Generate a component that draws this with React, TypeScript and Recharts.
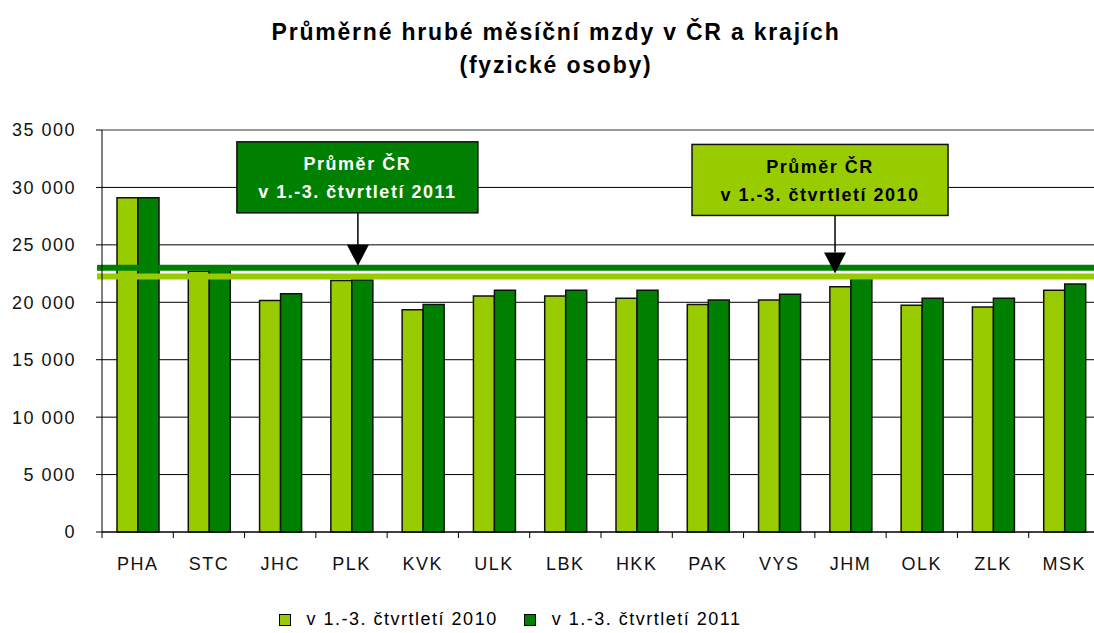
import { BarChart, Bar, XAxis, YAxis, CartesianGrid, ReferenceLine, Legend } from 'recharts'

const regions = ['PHA', 'STC', 'JHC', 'PLK', 'KVK', 'ULK', 'LBK', 'HKK', 'PAK', 'VYS', 'JHM', 'OLK', 'ZLK', 'MSK']
const wages2010 = [29100, 22700, 20150, 21900, 19350, 20550, 20550, 20350, 19800, 20200, 21350, 19750, 19600, 21050]
const wages2011 = [29100, 22900, 20750, 21950, 19800, 21050, 21050, 21050, 20200, 20700, 22050, 20350, 20350, 21600]
const avg2010 = 22250
const avg2011 = 23000
const yTicks = [0, 5000, 10000, 15000, 20000, 25000, 30000, 35000]
const seriesNames = ['v 1.-3. čtvrtletí 2010', 'v 1.-3. čtvrtletí 2011']
const calloutTitle = 'Průměr ČR'

const LIGHT = '#99cc00'
const DARK = '#008000'
const FONT = '"Liberation Sans", Arial, sans-serif'

const data = regions.map((r, i) => ({ region: r, y2010: wages2010[i], y2011: wages2011[i] }))

const W = 1100
const H = 633
const LEFT = 102
const BAND = (W - LEFT) / regions.length
const X_TICK = 6
const X_MARGIN = 18

// "35 000" style with a plain space as thousands separator
const fmt = (v: number) => {
  const s = String(Math.round(v))
  return s.replace(/\B(?=(\d{3})+(?!\d))/g, ' ')
}

function RegionTick({ x, y, payload }: any) {
  const axisY = y - X_TICK - X_MARGIN
  return (
    <g>
      <line x1={x - BAND / 2} x2={x - BAND / 2} y1={axisY} y2={axisY + X_TICK} stroke="#000" />
      <text x={x} y={y} dy="0.8em" textAnchor="middle" fill="#111" fontSize={18} letterSpacing={1.5} fontFamily={FONT}>
        {payload.value}
      </text>
    </g>
  )
}

/// Callout box + arrow pinned to a reference line (viewBox = the line).
function AvgCallout({ viewBox, fill, textColor, lineColor, arrowFrac, boxDx, boxW, rise, tipGap, label }: any) {
  if (!viewBox) return null
  const { x, y, width } = viewBox
  const ax = x + width * arrowFrac
  const boxTop = y - rise
  const boxH = 71
  const tip = y - tipGap
  const triTop = tip - 21
  return (
    <g>
      <line x1={x - 5} x2={x} y1={y} y2={y} stroke={lineColor} strokeWidth={6} />
      <line x1={ax} x2={ax} y1={boxTop + boxH} y2={triTop} stroke="#000" strokeWidth={1.5} />
      <polygon points={`${ax - 11},${triTop} ${ax + 11},${triTop} ${ax},${tip}`} fill="#000" />
      <rect x={ax + boxDx} y={boxTop} width={boxW} height={boxH} fill={fill} stroke="#111" strokeWidth={1.5} />
      <text x={ax + boxDx + boxW / 2} y={boxTop + 22} dy="0.35em" textAnchor="middle" fill={textColor}
        fontSize={18} fontWeight="bold" letterSpacing={1.5} fontFamily={FONT}>{calloutTitle}</text>
      <text x={ax + boxDx + boxW / 2} y={boxTop + 50} dy="0.35em" textAnchor="middle" fill={textColor}
        fontSize={18} fontWeight="bold" letterSpacing={1.5} fontFamily={FONT}>{label}</text>
    </g>
  )
}

function LegendBox({ payload }: any) {
  return (
    <div style={{ display: 'flex', justifyContent: 'center', alignItems: 'center', paddingRight: 80, fontFamily: FONT, fontSize: 18, letterSpacing: 1.5, color: '#000' }}>
      {(payload || []).map((p: any, i: number) => (
        <div key={i} style={{ display: 'flex', alignItems: 'center', marginRight: i === 0 ? 26 : 0 }}>
          <span style={{ width: 10, height: 10, background: p.color, border: '1px solid #000', marginRight: 16, display: 'inline-block' }} />
          <span>{p.value}</span>
        </div>
      ))}
    </div>
  )
}

export default function App() {
  return (
    <div style={{ position: 'absolute', left: 0, top: 0, width: 1094, height: H, overflow: 'hidden', background: '#fff' }}>
      <style>{'body{margin:0}'}</style>
      <div style={{ position: 'absolute', left: 0, width: 1112, top: 16, textAlign: 'center', fontFamily: FONT, fontWeight: 'bold', fontSize: 23, letterSpacing: 1.8, lineHeight: '33px', color: '#000', zIndex: 2 }}>
        <div>Průměrné hrubé měsíční mzdy v ČR a krajích</div>
        <div>(fyzické osoby)</div>
      </div>
      <BarChart width={W} height={H} data={data} margin={{ top: 130, right: 0, left: 0, bottom: 0 }} barGap={0} barSize={21}>
        <CartesianGrid vertical={false} stroke="#000" strokeWidth={1} />
        <XAxis dataKey="region" axisLine={{ stroke: '#000' }} tickLine={false} tickSize={X_TICK} tickMargin={X_MARGIN}
          height={77} interval={0} tick={<RegionTick />} />
        <YAxis width={LEFT} domain={[0, 35000]} ticks={yTicks} tickFormatter={fmt} axisLine={{ stroke: '#000' }}
          tickLine={{ stroke: '#000' }} tickSize={6} tickMargin={20}
          tick={{ fill: '#111', fontSize: 18, letterSpacing: 1.5, fontFamily: FONT }} />
        <Legend verticalAlign="bottom" height={24} content={<LegendBox />} />
        <Bar dataKey="y2010" name={seriesNames[0]} fill={LIGHT} stroke="#111" strokeWidth={1.5} isAnimationActive={false} />
        <Bar dataKey="y2011" name={seriesNames[1]} fill={DARK} stroke="#111" strokeWidth={1.5} isAnimationActive={false} />
        <ReferenceLine y={35000} stroke="#a0a0a0" strokeWidth={1.5} />
        <ReferenceLine y={avg2011} stroke={DARK} strokeWidth={6}
          label={<AvgCallout fill={DARK} textColor="#fff" lineColor={DARK} arrowFrac={0.2564} boxDx={-121} boxW={241} rise={126} tipGap={2} label={seriesNames[1]} />} />
        <ReferenceLine y={avg2010} stroke={LIGHT} strokeWidth={6}
          label={<AvgCallout fill={LIGHT} textColor="#000" lineColor={LIGHT} arrowFrac={0.7345} boxDx={-143} boxW={256} rise={132} tipGap={3} label={seriesNames[0]} />} />
      </BarChart>
    </div>
  )
}
